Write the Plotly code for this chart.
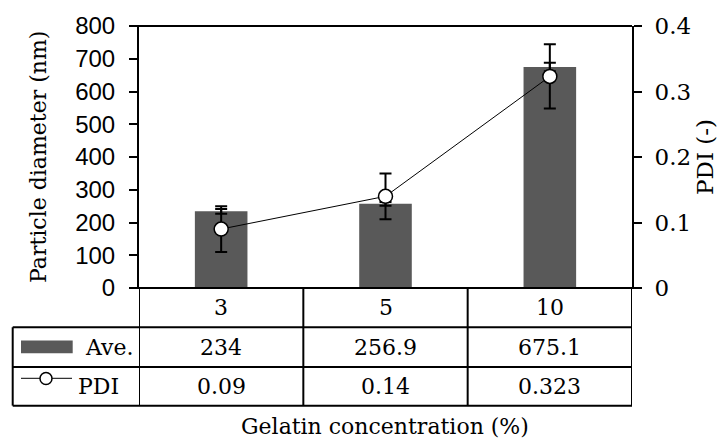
import plotly.graph_objects as go

# Data
concentrations = ["3", "5", "10"]
ave_diameter = [234, 256.9, 675.1]
ave_err = [7, 6, 13]
pdi = [0.09, 0.14, 0.323]
pdi_err = [0.035, 0.035, 0.049]
left_ticks = [0, 100, 200, 300, 400, 500, 600, 700, 800]
right_ticks = [0, 0.1, 0.2, 0.3, 0.4]
right_tick_text = ["0", "0.1", "0.2", "0.3", "0.4"]

W, H = 720, 447
PL, PR, PT, PB = 139, 632, 23, 288  # plot area in pixels
SERIF = "DejaVu Serif"
SANS = "Liberation Sans"
BAR_COLOR = "#595959"


def px_x(px):
    return (px - PL) / (PR - PL)


def px_y(py):
    return (PB - py) / (PB - PT)


fig = go.Figure()
fig.add_trace(go.Bar(
    x=list(range(len(concentrations))), y=ave_diameter, width=0.32,
    marker=dict(color=BAR_COLOR, line=dict(width=0)),
    error_y=dict(type="data", array=ave_err, color="black", thickness=2, width=6),
    name="Ave.", yaxis="y",
))
fig.add_trace(go.Scatter(
    x=list(range(len(concentrations))), y=pdi, mode="lines+markers",
    line=dict(color="black", width=1),
    marker=dict(symbol="circle", size=14, color="white", line=dict(color="black", width=1.5)),
    error_y=dict(type="data", array=pdi_err, color="black", thickness=2, width=6),
    name="PDI", yaxis="y2",
))

fig.update_layout(
    width=W, height=H,
    margin=dict(l=PL, r=W - PR, t=PT, b=H - PB, pad=0),
    paper_bgcolor="white", plot_bgcolor="white",
    showlegend=False,
    xaxis=dict(
        range=[-0.5, 2.5], showticklabels=False, ticks="", showgrid=False,
        zeroline=False, showline=False, fixedrange=True,
    ),
    yaxis=dict(
        range=[0, 800], tickvals=left_ticks, ticks="outside", ticklen=8, tickwidth=2,
        tickcolor="black", showline=True, linecolor="black", linewidth=2,
        showgrid=False, zeroline=False, ticklabelstandoff=9,
        tickfont=dict(family=SANS, size=24, color="black"),
    ),
    yaxis2=dict(
        range=[0, 0.4], tickvals=right_ticks, ticktext=right_tick_text,
        overlaying="y", side="right", ticks="outside", ticklen=8, tickwidth=2,
        tickcolor="black", showline=True, linecolor="black", linewidth=2,
        showgrid=False, zeroline=False, ticklabelstandoff=8,
        tickfont=dict(family=SERIF, size=23, color="black"),
    ),
)

shapes = []
line = dict(color="black", width=2)
# top border and bottom axis (with end ticks)
shapes.append(dict(type="line", xref="paper", yref="paper", x0=px_x(PL - 9), x1=px_x(PR), y0=1, y1=1, line=line))
shapes.append(dict(type="line", xref="paper", yref="paper", x0=px_x(PL - 9), x1=px_x(PR + 9), y0=0, y1=0, line=line))

# data table grid
row_b1, row_b2, row_b3 = 327.7, 368, 407
table_left = 12.7
for xb in [-0.5, 0.5, 1.5, 2.5]:
    shapes.append(dict(type="line", xref="x", yref="paper", x0=xb, x1=xb, y0=0, y1=px_y(row_b3), line=line))
shapes.append(dict(type="line", xref="paper", yref="paper", x0=px_x(table_left), x1=px_x(table_left),
                   y0=px_y(row_b1), y1=px_y(row_b3), line=line))
for yb in [row_b1, row_b2, row_b3]:
    shapes.append(dict(type="line", xref="paper", yref="paper", x0=px_x(table_left), x1=1,
                       y0=px_y(yb), y1=px_y(yb), line=line))

# legend keys inside the table
shapes.append(dict(type="rect", xref="paper", yref="paper", x0=px_x(21), x1=px_x(72.7),
                   y0=px_y(341), y1=px_y(354), fillcolor=BAR_COLOR, line=dict(width=0)))
key_y = 379.5
shapes.append(dict(type="line", xref="paper", yref="paper", x0=px_x(21), x1=px_x(72),
                   y0=px_y(key_y), y1=px_y(key_y), line=dict(color="#333333", width=1.2)))
shapes.append(dict(type="circle", xref="paper", yref="paper", xsizemode="pixel", ysizemode="pixel",
                   xanchor=px_x(46), yanchor=px_y(key_y), x0=-6, x1=6, y0=-6, y1=6,
                   fillcolor="white", line=dict(color="black", width=1.5)))

annotations = []
font_tbl = dict(family=SERIF, size=22, color="black")
rows_c = [(288 + row_b1) / 2, (row_b1 + row_b2) / 2, (row_b2 + row_b3) / 2]
for i, c in enumerate(concentrations):
    annotations.append(dict(x=i, y=px_y(rows_c[0]), xref="x", yref="paper", text=c,
                            showarrow=False, font=font_tbl, xanchor="center", yanchor="middle"))
    annotations.append(dict(x=i, y=px_y(rows_c[1]), xref="x", yref="paper", text=str(ave_diameter[i]),
                            showarrow=False, font=font_tbl, xanchor="center", yanchor="middle"))
    annotations.append(dict(x=i, y=px_y(rows_c[2]), xref="x", yref="paper", text=str(pdi[i]),
                            showarrow=False, font=font_tbl, xanchor="center", yanchor="middle"))
annotations.append(dict(x=px_x(135), y=px_y(rows_c[1]), xref="paper", yref="paper", text="Ave.",
                        showarrow=False, font=font_tbl, xanchor="right", yanchor="middle"))
annotations.append(dict(x=px_x(76), y=px_y(rows_c[2]), xref="paper", yref="paper", text="PDI",
                        showarrow=False, font=font_tbl, xanchor="left", yanchor="middle"))

# axis titles
annotations.append(dict(x=px_x(38), y=0.5, xref="paper", yref="paper", text="Particle diameter (nm)",
                        textangle=-90, showarrow=False, font=dict(family=SERIF, size=22, color="black"),
                        xanchor="center", yanchor="middle"))
annotations.append(dict(x=px_x(705), y=0.5, xref="paper", yref="paper", text="PDI (-)",
                        textangle=-90, showarrow=False, font=dict(family=SERIF, size=23, color="black"),
                        xanchor="center", yanchor="middle"))
annotations.append(dict(x=px_x(385), y=px_y(428), xref="paper", yref="paper",
                        text="Gelatin concentration (%)", showarrow=False,
                        font=dict(family=SERIF, size=22, color="black"),
                        xanchor="center", yanchor="middle"))

fig.update_layout(shapes=shapes, annotations=annotations)
fig.write_html("out.html")
